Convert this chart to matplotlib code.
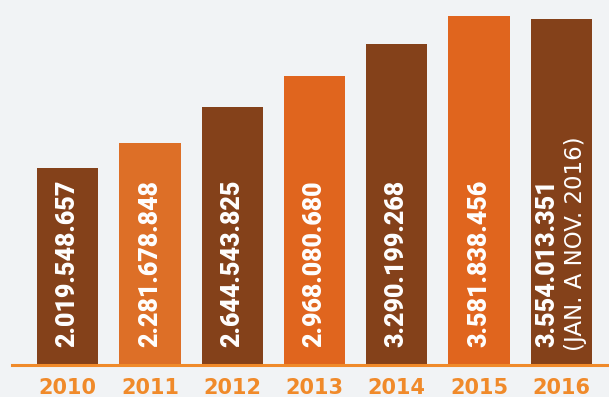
import matplotlib.pyplot as plt

years = ['2010', '2011', '2012', '2013', '2014', '2015', '2016']
values = [2019548657, 2281678848, 2644543825, 2968080680, 3290199268, 3581838456, 3554013351]
labels = ['2.019.548.657', '2.281.678.848', '2.644.543.825', '2.968.080.680',
          '3.290.199.268', '3.581.838.456', '3.554.013.351']
note_2016 = '(JAN. A NOV. 2016)'

brown = '#84411a'
orange = '#e0651e'
bg = '#f1f3f5'
colors = [brown, '#dd6f27', brown, orange, brown, orange, brown]

fig = plt.figure(figsize=(6.09, 3.97), dpi=100, facecolor=bg)
ax = fig.add_axes([12 / 609, 32 / 397, 597 / 609, 365 / 397])
ax.set_facecolor(bg)

x = list(range(len(years)))
ax.bar(x, values, width=0.744, color=colors, zorder=2)
ax.set_xlim(-0.677, 6.579)
ax.set_ylim(0, 3.747e9)

for i, lab in enumerate(labels):
    dx = -10.4 if i == len(labels) - 1 else 0
    ax.annotate(lab, xy=(i, 0), xytext=(dx, 13), textcoords='offset points',
                rotation=90, ha='center', va='bottom', color='white',
                fontsize=18, fontweight='black', family='Roboto')
ax.annotate(note_2016, xy=(6, 0), xytext=(10.4, 10), textcoords='offset points',
            rotation=90, ha='center', va='bottom', color='white',
            fontsize=16.5, fontweight='normal', family='DejaVu Sans')

for s in ['top', 'right', 'left']:
    ax.spines[s].set_visible(False)
ax.spines['bottom'].set_color('#f08a2a')
ax.spines['bottom'].set_linewidth(2.2)
ax.spines['bottom'].set_zorder(3)
ax.set_yticks([])
ax.set_xticks(x)
ax.set_xticklabels(years, color='#f08a2a', fontsize=15, fontweight='bold')
ax.tick_params(axis='x', length=0, pad=9)

fig.savefig('out.png', dpi=100, facecolor=bg)
